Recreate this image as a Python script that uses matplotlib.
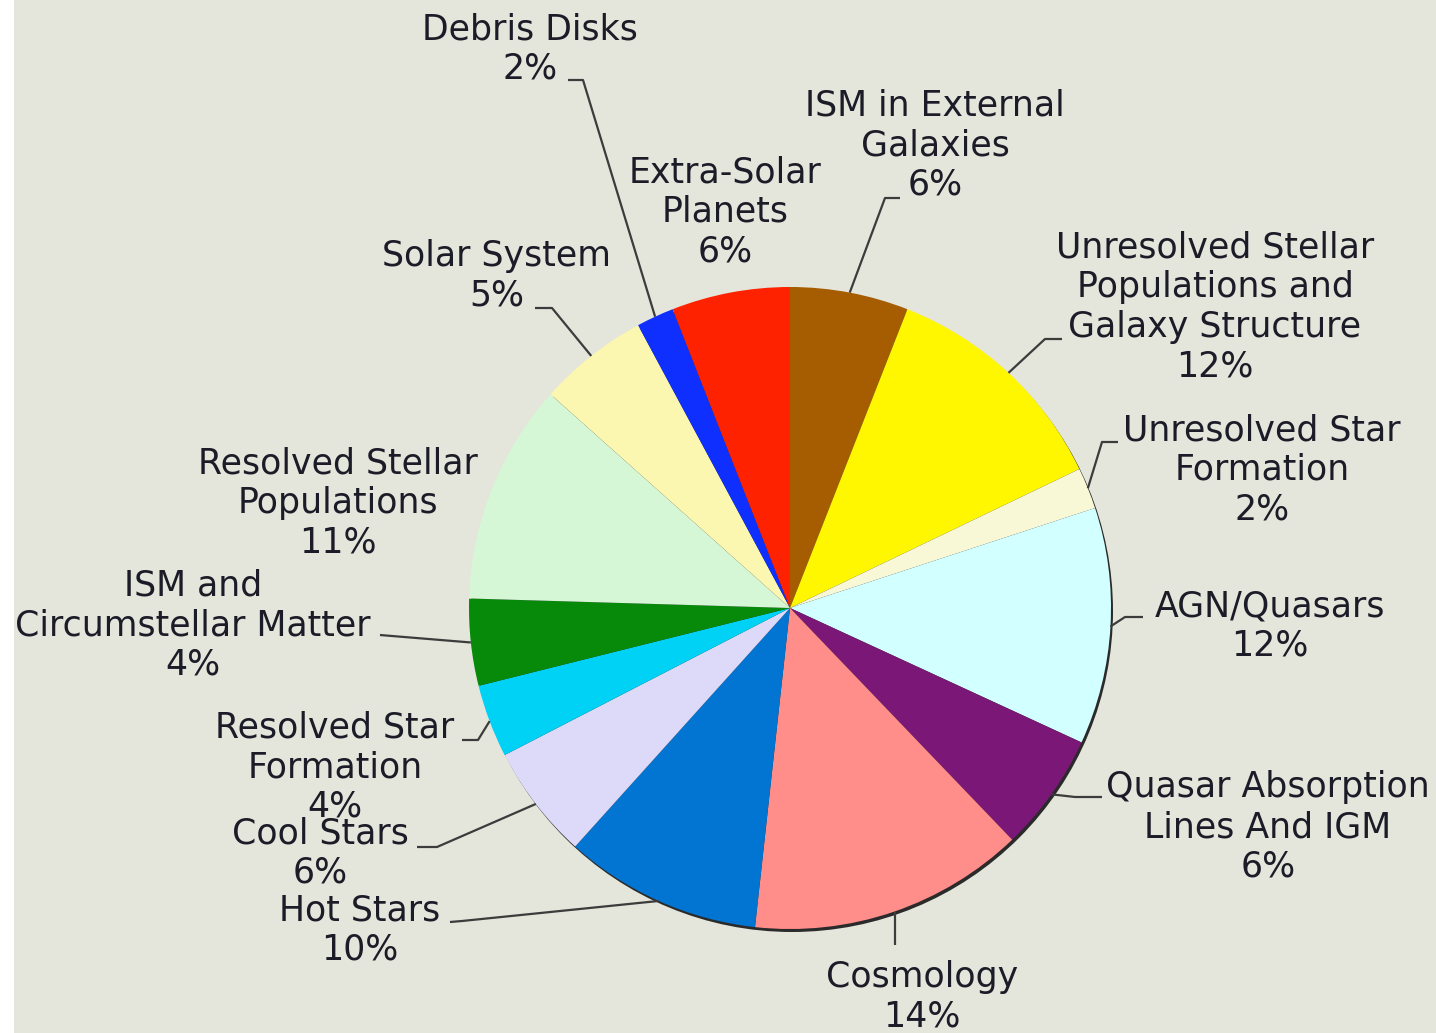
import numpy as np
import matplotlib
matplotlib.use("Agg")
import matplotlib.pyplot as plt
from matplotlib.patches import Circle, Rectangle

# slices, clockwise from 12 o'clock
labels = [
    "ISM in External\nGalaxies\n6%",
    "Unresolved Stellar\nPopulations and\nGalaxy Structure\n12%",
    "Unresolved Star\nFormation\n2%",
    "AGN/Quasars\n12%",
    "Quasar Absorption\nLines And IGM\n6%",
    "Cosmology\n14%",
    "Hot Stars\n10%",
    "Cool Stars\n6%",
    "Resolved Star\nFormation\n4%",
    "ISM and\nCircumstellar Matter\n4%",
    "Resolved Stellar\nPopulations\n11%",
    "Solar System\n5%",
    "Debris Disks\n2%",
    "Extra-Solar\nPlanets\n6%",
]
shares = [6.0, 12.0, 2.1, 12.0, 6.0, 14.0, 10.0, 5.8, 3.7, 4.4, 11.2, 5.6, 1.9, 6.0]
colors = ["#a65c00", "#fff700", "#f8f8d6", "#d2ffff", "#7b1877", "#ff8d8a",
          "#0275d2", "#dcdaf8", "#00d2f6", "#07890a", "#d5f7d5", "#fbf7b0",
          "#0f2fff", "#ff2200"]

W, H = 1436, 1033
cx, cy, R = 790, H - 608, 321

# label centres and leader elbows (pixel coords, y from top); None = no leader
label_pos = [(935, 145), (1215, 307), (1262, 470), (1270, 626), (1268, 827),
             (922, 997), (360, 930), (320, 853), (335, 767), (193, 625),
             (338, 503), (497, 276), (530, 49), (725, 212)]
leaders = [
    [(900, 198), (885, 198)],
    [(1062, 339), (1045, 339)],
    [(1118, 442), (1102, 442)],
    [(1143, 617), (1125, 617)],
    [(1102, 797), (1075, 797)],
    [(895, 945)],
    [(450, 922), (462, 921)],
    [(417, 847), (437, 847)],
    [(462, 740), (478, 740)],
    [(380, 635), (392, 636)],
    None,
    [(535, 308), (552, 308)],
    [(568, 80), (583, 80)],
    None,
]

fig = plt.figure(figsize=(W / 100, H / 100), dpi=100)
fig.patch.set_facecolor("white")
ax = fig.add_axes([0, 0, 1, 1])
ax.add_patch(Rectangle((14, 0), W - 14, H, facecolor="#e4e5db", edgecolor="none", zorder=0))

# dark rim on the lower right
ax.add_patch(Circle((cx + 2, cy - 3), R, facecolor="#2a2a2a", edgecolor="none", zorder=1))

wedges, _ = ax.pie(shares, colors=colors, startangle=90, counterclock=False,
                   center=(cx, cy), radius=R, frame=True,
                   wedgeprops=dict(linewidth=0, zorder=2))
for w in wedges:
    w.set_zorder(2)

for i, lab in enumerate(labels):
    tx, ty = label_pos[i]
    ax.text(tx, H - ty, lab, ha="center", va="center", fontsize=25,
            color="#1c1c28", linespacing=1.22, family="DejaVu Sans", zorder=4)
    if leaders[i] is None:
        continue
    w = wedges[i]
    mid = np.deg2rad((w.theta1 + w.theta2) / 2)
    ex, ey = cx + R * np.cos(mid), cy + R * np.sin(mid)
    if len(leaders[i]) == 1:
        # straight drop under the wedge
        ex = leaders[i][0][0]
    xs = [p[0] for p in leaders[i]] + [ex]
    ys = [H - p[1] for p in leaders[i]] + [ey]
    ax.plot(xs, ys, color="#3c3c3c", lw=1.6, zorder=3, solid_capstyle="butt")

ax.set_xlim(0, W)
ax.set_ylim(0, H)
ax.set_aspect("equal")
ax.axis("off")

fig.savefig("out.png", dpi=100, facecolor=fig.get_facecolor())
